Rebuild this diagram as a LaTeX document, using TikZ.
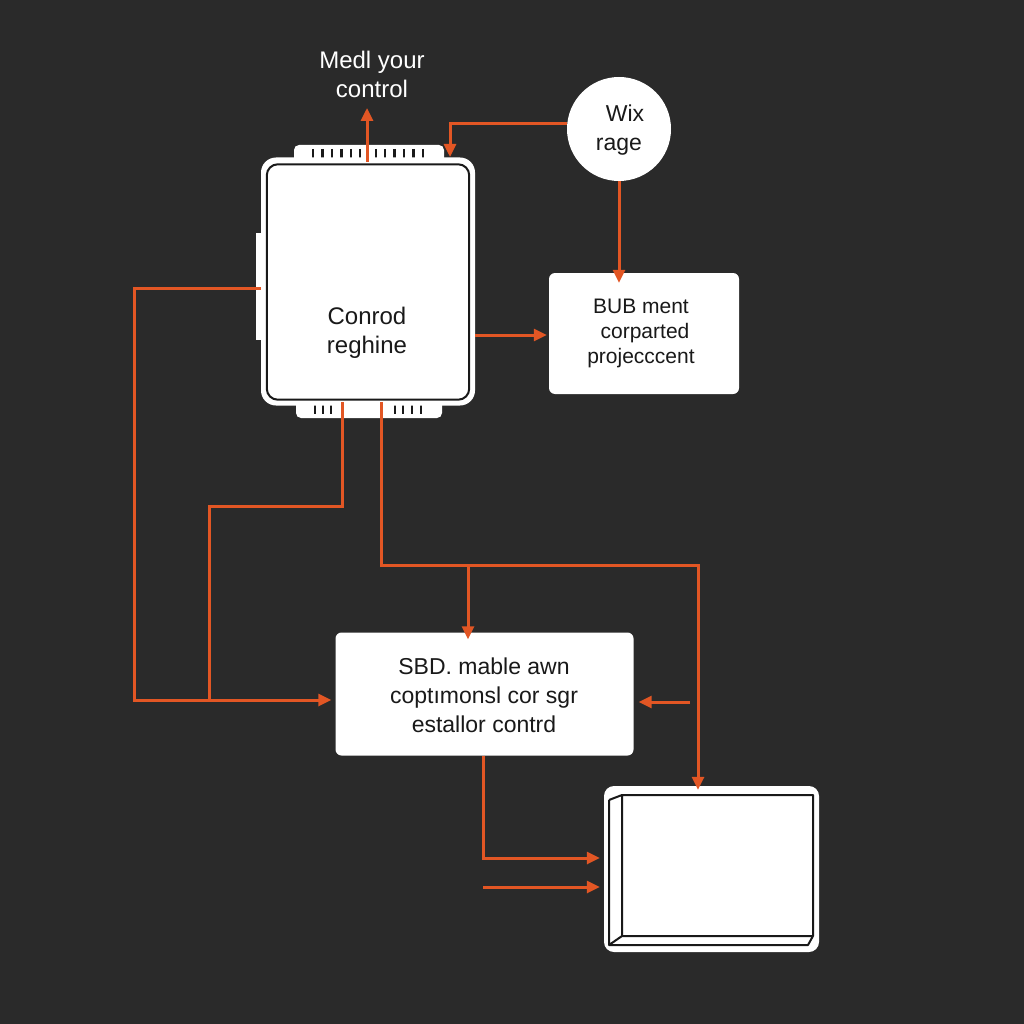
\documentclass[tikz,border=0pt]{standalone}
\usepackage{fontspec}
\setmainfont{Liberation Sans}
\usetikzlibrary{arrows.meta,calc}
\definecolor{bg}{RGB}{42,42,42}
\definecolor{wire}{RGB}{226,86,36}
\definecolor{ink}{RGB}{25,25,25}
\begin{document}
\begin{tikzpicture}[x=1pt,y=-1pt,
  wirestyle/.style={draw=wire,line width=3pt},
  arr/.style={wirestyle,-{Triangle[length=13pt,width=12pt]}},
  whitebox/.style={fill=white,draw=none,rounded corners=6pt,inner sep=0pt},
  txt/.style={text=ink,align=center,font=\fontsize{21}{29}\selectfont},
  pin/.style={draw=ink,line width=2.7pt}]
\fill[bg] (0,0) rectangle (1024,1024);
\useasboundingbox (0,0) rectangle (1024,1024);

% chip pin bands and side tab
\fill[white,rounded corners=5pt] (294,145) rectangle (444,172);
\fill[white,rounded corners=5pt] (296,390) rectangle (442,418);
\fill[white] (256,233) rectangle (266,340);
\foreach \x in {313,322.5,332,341.5,351,360,376,385,394.5,404,413.5,423}
  \draw[pin] (\x,149) -- (\x,161);
\foreach \x in {315,323,331,395,403,412,421}
  \draw[pin] (\x,402) -- (\x,414);
% chip
\node[whitebox,rounded corners=15pt,minimum width=214pt,minimum height=248pt] (chip) at (368,281.5) {};
\draw[ink,line width=2pt,rounded corners=11pt]
  ([shift={(6,7)}]chip.north west) rectangle ([shift={(-6,-6)}]chip.south east);
\node[txt,font=\fontsize{24}{29}\selectfont] (chiptxt) at (367,333) {Conrod\\reghine};

% top label
\node[txt,text=white,font=\fontsize{24}{29}\selectfont] (medl) at (372,74) {Medl your\\control};
% circle
\node[circle,fill=white,minimum size=104pt,inner sep=0pt] (wix) at (619,129) {};
\node[txt,font=\fontsize{23}{29}\selectfont] (wixtxt) at (619,130) {\hspace*{12pt}Wix\\rage};
% BUB box
\node[whitebox,minimum width=190pt,minimum height=121pt] (bub) at (644,333.5) {};
\node[txt,font=\fontsize{21}{25}\selectfont] (bubtxt) at (641,333) {BUB ment\\\hspace*{8pt}corparted\\projecccent};
% SBD box
\node[whitebox,minimum width=298pt,minimum height=123pt] (sbd) at (484.5,694) {};
\node[txt,font=\fontsize{23}{29}\selectfont] (sbdtxt) at (484,695) {SBD. mable awn\\coptımonsl cor sgr\\estallor contrd};
% output box
\node[whitebox,rounded corners=10pt,minimum width=215pt,minimum height=166pt] (out) at (711.5,869) {};
\coordinate (o1) at (609,800);
\coordinate (o2) at (622,795);
\coordinate (o3) at (813,795);
\coordinate (o4) at (813,936);
\coordinate (o5) at (622,936);
\coordinate (o6) at (609,945);
\coordinate (o7) at (808,945);
\draw[ink,line width=2pt,line join=round]
  (o2) -- (o3) -- (o4) -- (o5) -- cycle
  (o1) -- (o2) (o1) -- (o6) -- (o7) -- (o4) (o6) -- (o5);

% connectors
\coordinate (tipup) at (367,108);
\draw[arr] (367,162) -- (tipup);
\coordinate (wbend) at (450,124);
\draw[arr] (wix.west |- wbend) -- (wbend) -- (450,157);
\draw[arr] (wix.south) -- ([yshift=-10]bub.north -| wix.south);
\draw[arr] (chip.east |- 0,335) -- ([xshift=-2]bub.west |- 0,335);
% left loops
\coordinate (l1) at (134,288);
\coordinate (l2) at (134,700);
\draw[arr] (chip.west |- l1) -- (l1) -- (l2) -- ([xshift=-4]sbd.west |- l2);
\coordinate (m1) at (342,506);
\coordinate (m2) at (209,506);
\coordinate (m3) at (209,700);
\draw[wirestyle,line join=miter] (342,402) -- (m1) -- (m2) -- (m3);
% right branch
\coordinate (r1) at (381,565);
\coordinate (r2) at (698,565);
\draw[arr] (381,402) -- (r1) -- (r2) -- ([yshift=-4]out.north -| r2);
\coordinate (b1) at (468,565);
\draw[arr] (b1) -- ([yshift=-7]sbd.north -| b1);
\coordinate (s1) at (690,702);
\draw[arr] (s1) -- ([xshift=5]sbd.east |- s1);
% bottom
\coordinate (d1) at (483,858);
\draw[arr] (sbd.south -| d1) -- (d1) -- ([xshift=-4]out.west |- d1);
\coordinate (d2) at (483,887);
\draw[arr] (d2) -- ([xshift=-4]out.west |- d2);
\end{tikzpicture}
\end{document}
